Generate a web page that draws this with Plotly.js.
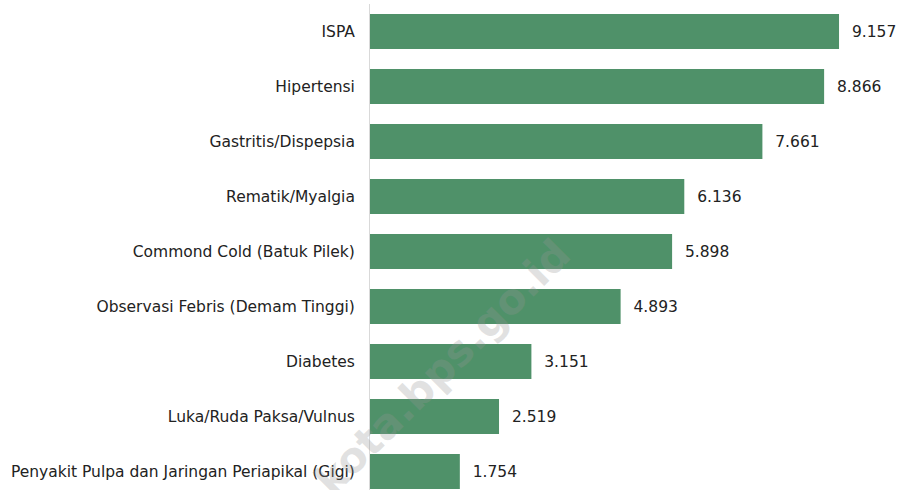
<!DOCTYPE html>
<html>
<head>
<meta charset="utf-8">
<script src="https://cdn.plot.ly/plotly-3.0.1.min.js"></script>
<style>html,body{margin:0;padding:0;background:#fff;}#chart{width:903px;height:490px;}</style>
</head>
<body>
<div id="chart"></div>
<script>
const categories = [
  "ISPA",
  "Hipertensi",
  "Gastritis/Dispepsia",
  "Rematik/Myalgia",
  "Commond Cold (Batuk Pilek)",
  "Observasi Febris (Demam Tinggi)",
  "Diabetes",
  "Luka/Ruda Paksa/Vulnus",
  "Penyakit Pulpa dan Jaringan Periapikal (Gigi)"
];
const values = [9157, 8866, 7661, 6136, 5898, 4893, 3151, 2519, 1754];

const trace = {
  type: 'bar',
  orientation: 'h',
  y: categories,
  x: values,
  marker: {color: '#4f9169'},
  texttemplate: '  %{x:,.0f}',
  textposition: 'outside',
  cliponaxis: false,
  textfont: {family: 'DejaVu Sans', size: 15.5, color: '#222'},
  hoverinfo: 'none'
};

const layout = {
  width: 903, height: 490,
  margin: {l: 370, r: 0, t: 4, b: 0},
  separators: ',.',
  paper_bgcolor: '#fff', plot_bgcolor: '#fff',
  bargap: 0.364,
  showlegend: false,
  font: {family: 'DejaVu Sans', size: 15.5, color: '#222'},
  xaxis: {range: [0, 10406], visible: false, showgrid: false, zeroline: false},
  yaxis: {
    type: 'category',
    categoryorder: 'array', categoryarray: categories,
    range: [8.336, -0.5],
    showline: true, linecolor: '#d9d9d9', linewidth: 1,
    ticks: '', ticklabelstandoff: 11,
    showgrid: false, zeroline: false,
    tickfont: {family: 'DejaVu Sans', size: 15.5, color: '#222'}
  },
  annotations: [{
    text: 'kota.bps.go.id',
    xref: 'paper', yref: 'paper',
    x: (442 - 370) / 533, y: 1 - (367 - 4) / 486,
    xanchor: 'center', yanchor: 'middle',
    textangle: -45, showarrow: false,
    font: {family: 'DejaVu Sans', size: 42, color: 'rgba(150,150,150,0.28)', weight: 'bold'}
  }]
};

Plotly.newPlot('chart', [trace], layout, {staticPlot: true, displayModeBar: false});
</script>
</body>
</html>
